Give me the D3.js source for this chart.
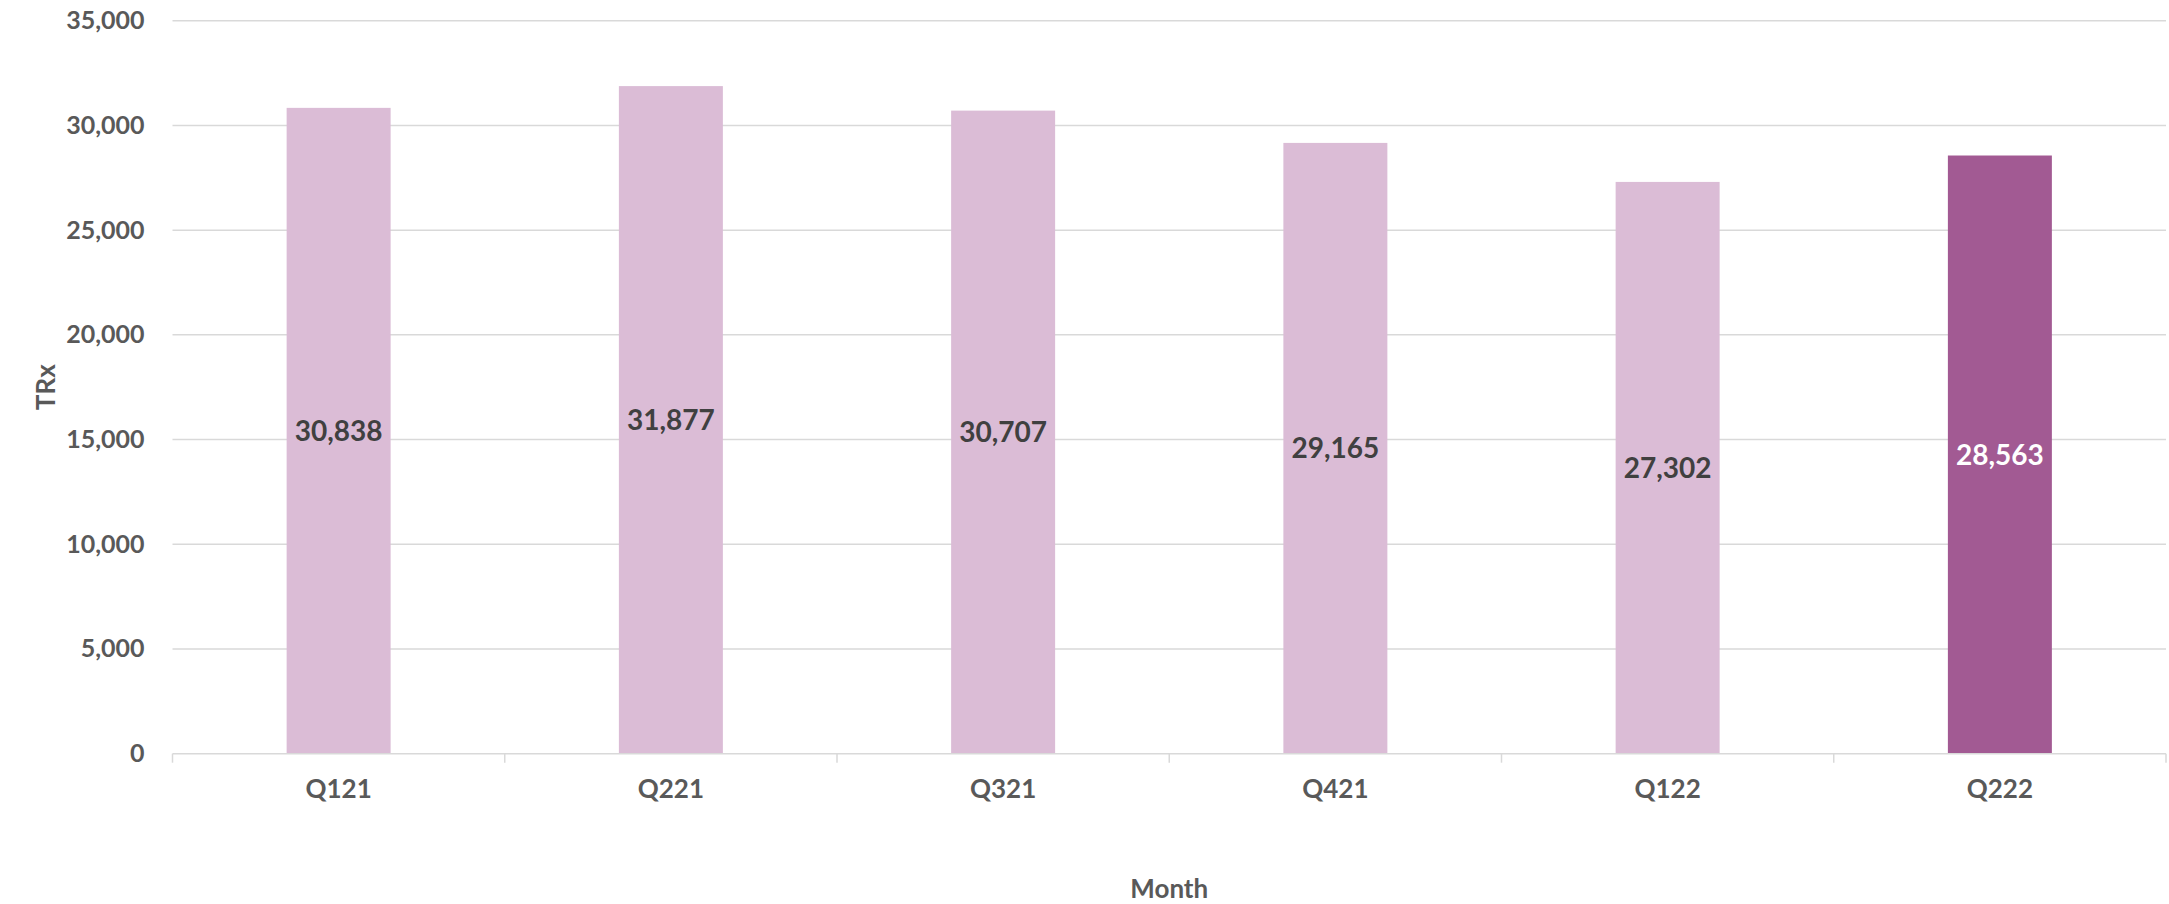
<!DOCTYPE html>
<html><head><meta charset="utf-8">
<script src="https://cdn.jsdelivr.net/npm/d3@7"></script>
<style>
html,body{margin:0;padding:0;background:#fff;}
svg{display:block;font-family:Lato,"Open Sans",sans-serif;}
</style></head>
<body>
<svg id="chart" width="2169" height="904"></svg>
<script>
const categories = ["Q121","Q221","Q321","Q421","Q122","Q222"];
const values = [30838, 31877, 30707, 29165, 27302, 28563];
const highlight = [false, false, false, false, false, true];
const yTicks = [0,5000,10000,15000,20000,25000,30000,35000];
const xTitle = "Month";
const yTitle = "TRx";

(function(){
const svg = d3.select("#chart");
const pLeft = 172.5, pRight = 2166, pTop = 20.7, pBottom = 753.7;

const x = d3.scaleBand().domain(categories).range([pLeft, pRight]).paddingInner(0.687).paddingOuter(0.3435);
const xb = d3.scaleBand().domain(categories).range([pLeft, pRight]);
const y = d3.scaleLinear().domain([0, 35000]).range([pBottom, pTop]);
const fmt = d3.format(",");

// gridlines
svg.append("g").selectAll("line").data(yTicks.filter(d=>d>0)).join("line")
  .attr("x1", pLeft).attr("x2", pRight)
  .attr("y1", d=>y(d)).attr("y2", d=>y(d))
  .attr("stroke", "#d9d9d9").attr("stroke-width", 1.5);

// y axis labels
const yAxis = d3.axisLeft(y).tickValues(yTicks).tickFormat(fmt).tickSize(0).tickPadding(28);
const gy = svg.append("g").attr("transform", `translate(${pLeft},0)`).call(yAxis);
gy.select(".domain").remove();
gy.selectAll("text").attr("font-size", 25).attr("font-weight", 700).attr("fill", "#595959")
  .attr("font-family", "Lato, 'Open Sans', sans-serif");

// bars
svg.append("g").selectAll("rect").data(categories).join("rect")
  .attr("x", d=>x(d)).attr("width", x.bandwidth())
  .attr("y", (d,i)=>y(values[i])).attr("height", (d,i)=>y(0)-y(values[i]))
  .attr("fill", (d,i)=>highlight[i] ? "#a25a93" : "#dbbcd6");

// x axis
const xAxis = d3.axisBottom(xb).tickSize(0).tickPadding(26);
const gx = svg.append("g").attr("transform", `translate(0,${pBottom})`).call(xAxis);
gx.select(".domain").attr("stroke", "#d9d9d9").attr("stroke-width", 1.5).attr("d", `M${pLeft},0H${pRight}`);
gx.selectAll("text").attr("font-size", 26).attr("font-weight", 700).attr("fill", "#595959")
  .attr("font-family", "Lato, 'Open Sans', sans-serif");
const bounds = categories.map(c=>xb(c)).concat([pRight]);
gx.append("g").selectAll("line").data(bounds).join("line")
  .attr("x1", d=>d).attr("x2", d=>d).attr("y1", 0).attr("y2", 9)
  .attr("stroke", "#d9d9d9").attr("stroke-width", 1.5);

// value labels
svg.append("g").selectAll("text").data(categories).join("text")
  .attr("x", d=>x(d)+x.bandwidth()/2)
  .attr("y", (d,i)=>(y(values[i])+y(0))/2)
  .attr("dy", "0.36em")
  .attr("text-anchor", "middle")
  .attr("font-size", 28).attr("font-weight", 700)
  .attr("fill", (d,i)=>highlight[i] ? "#ffffff" : "#404040")
  .text((d,i)=>fmt(values[i]));

// axis titles
svg.append("text").attr("x", (pLeft+pRight)/2).attr("y", 898)
  .attr("text-anchor", "middle").attr("font-size", 26).attr("font-weight", 700).attr("fill", "#595959")
  .text(xTitle);
svg.append("text").attr("transform", `translate(46,${(pTop+pBottom)/2}) rotate(-90)`)
  .attr("dy", "0.35em")
  .attr("text-anchor", "middle").attr("font-size", 26).attr("font-weight", 700).attr("fill", "#595959")
  .text(yTitle);
})();
</script>
</body></html>
